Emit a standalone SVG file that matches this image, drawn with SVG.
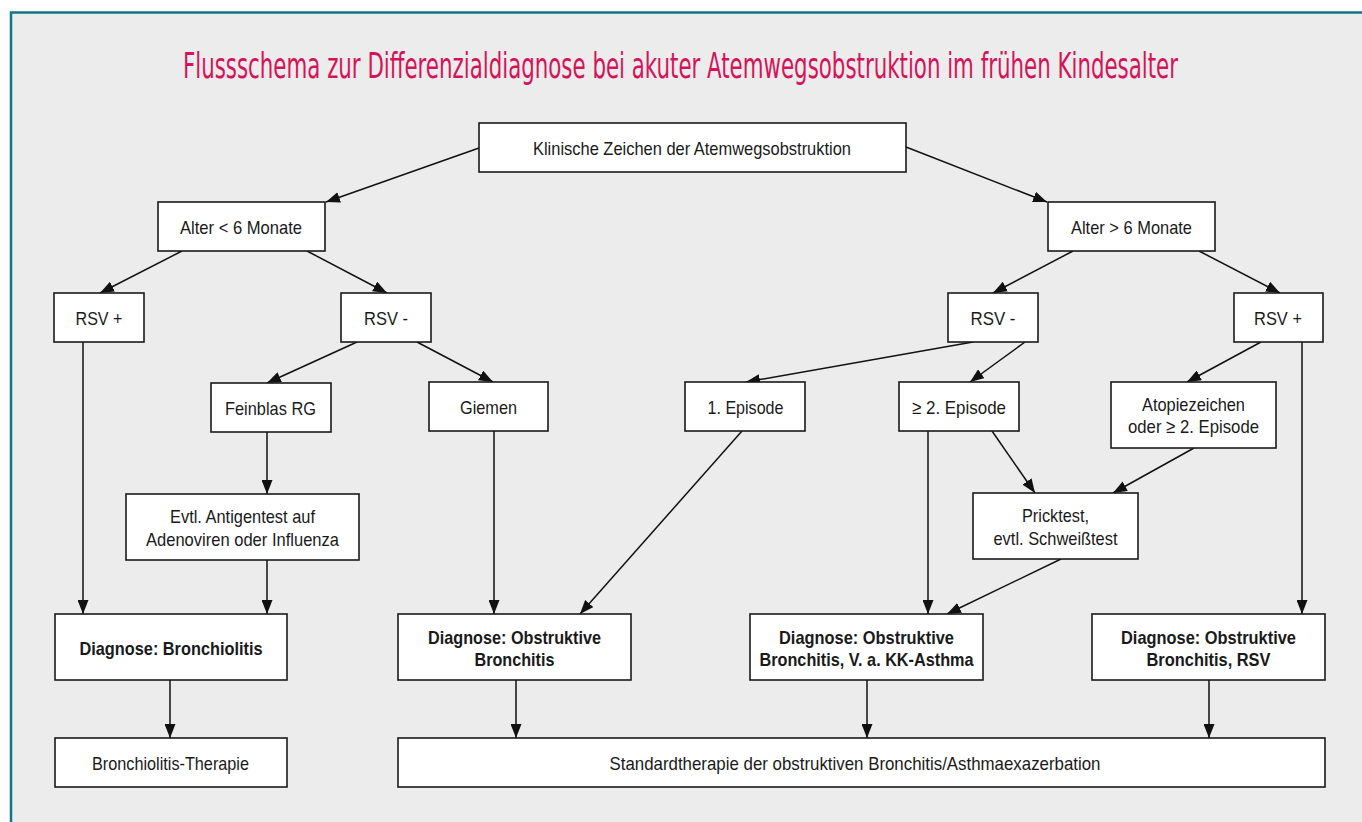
<svg xmlns="http://www.w3.org/2000/svg" width="1362" height="822" viewBox="0 0 1362 822">
<defs>
<marker id="ah" viewBox="0 0 14 11" refX="14" refY="5.5" markerWidth="14" markerHeight="11" markerUnits="userSpaceOnUse" orient="auto"><path d="M0,0 L14,5.5 L0,11 z" fill="#111"/></marker>
<style>
.box{fill:#fff;stroke:#1a1a1a;stroke-width:1.6}
.t{font-family:"Liberation Sans Narrow","Liberation Sans",Arial,sans-serif;font-size:19px;fill:#1a1a1a;text-anchor:middle}
.b{font-weight:bold}
.c{fill:none;stroke:#111;stroke-width:1.5;marker-end:url(#ah)}
</style>
</defs>
<rect x="0" y="0" width="1362" height="822" fill="#fff"/>
<rect x="11" y="12.5" width="1400" height="900" fill="#EBECEB" stroke="#127782" stroke-width="2.5"/>
<text transform="translate(680.5,78) scale(1,1.28)" x="0" y="0" font-family="'Liberation Sans Narrow','DejaVu Sans Condensed','Liberation Sans',sans-serif" font-size="28" fill="#D4145A" text-anchor="middle" textLength="995" lengthAdjust="spacingAndGlyphs">Flussschema zur Differenzialdiagnose bei akuter Atemwegsobstruktion im frühen Kindesalter</text>
<g id="connectors">
<path class="c" d="M479,148 L326,202"/>
<path class="c" d="M906,147 L1047,202"/>
<path class="c" d="M182,251 L100,293"/>
<path class="c" d="M307,251 L387,293"/>
<path class="c" d="M1073,251 L993,293"/>
<path class="c" d="M1199,251 L1280,293"/>
<path class="c" d="M83,342 L83,614"/>
<path class="c" d="M357,342 L267,383"/>
<path class="c" d="M417,342 L493,382"/>
<path class="c" d="M267,432 L267,494"/>
<path class="c" d="M267,560 L267,614"/>
<path class="c" d="M494,431 L494,614"/>
<path class="c" d="M742,431 L580,614"/>
<path class="c" d="M973,342 L746,382"/>
<path class="c" d="M1025,342 L970,382"/>
<path class="c" d="M1261,342 L1187,382"/>
<path class="c" d="M1302,342 L1302,614"/>
<path class="c" d="M928,431 L928,614"/>
<path class="c" d="M992,431 L1035,493"/>
<path class="c" d="M1194,448 L1113,493"/>
<path class="c" d="M1061,559 L947,614"/>
<path class="c" d="M170,680 L170,738"/>
<path class="c" d="M516,680 L516,738"/>
<path class="c" d="M867,680 L867,738"/>
<path class="c" d="M1209,680 L1209,738"/>
</g>
<g id="n1"><rect class="box" x="479" y="123" width="427" height="49"/><text class="t" x="692" y="155" textLength="318" lengthAdjust="spacingAndGlyphs">Klinische Zeichen der Atemwegsobstruktion</text></g>
<g id="n2"><rect class="box" x="158" y="202" width="167" height="49"/><text class="t" x="241" y="234" textLength="122" lengthAdjust="spacingAndGlyphs">Alter &lt; 6 Monate</text></g>
<g id="n3"><rect class="box" x="1048" y="202" width="167" height="49"/><text class="t" x="1131.5" y="234" textLength="121" lengthAdjust="spacingAndGlyphs">Alter &gt; 6 Monate</text></g>
<g id="n4"><rect class="box" x="54" y="293" width="90" height="49"/><text class="t" x="99" y="325" textLength="47" lengthAdjust="spacingAndGlyphs">RSV +</text></g>
<g id="n5"><rect class="box" x="341" y="293" width="90" height="49"/><text class="t" x="386" y="325" textLength="44" lengthAdjust="spacingAndGlyphs">RSV -</text></g>
<g id="n6"><rect class="box" x="948" y="293" width="90" height="49"/><text class="t" x="993" y="325" textLength="45" lengthAdjust="spacingAndGlyphs">RSV -</text></g>
<g id="n7"><rect class="box" x="1234" y="293" width="89" height="49"/><text class="t" x="1278" y="325" textLength="48" lengthAdjust="spacingAndGlyphs">RSV +</text></g>
<g id="n8"><rect class="box" x="211" y="383" width="120" height="49"/><text class="t" x="270.5" y="415" textLength="91" lengthAdjust="spacingAndGlyphs">Feinblas RG</text></g>
<g id="n9"><rect class="box" x="429" y="382" width="119" height="49"/><text class="t" x="488.5" y="414" textLength="57" lengthAdjust="spacingAndGlyphs">Giemen</text></g>
<g id="n10"><rect class="box" x="685" y="382" width="120" height="49"/><text class="t" x="745.5" y="414" textLength="76" lengthAdjust="spacingAndGlyphs">1. Episode</text></g>
<g id="n11"><rect class="box" x="899" y="382" width="120" height="49"/><text class="t" x="959" y="414" textLength="94" lengthAdjust="spacingAndGlyphs">≥ 2. Episode</text></g>
<g id="n12"><rect class="box" x="1111" y="382" width="165" height="66"/><text class="t" x="1193.5" y="411" textLength="103" lengthAdjust="spacingAndGlyphs">Atopiezeichen</text><text class="t" x="1193.5" y="433" textLength="131" lengthAdjust="spacingAndGlyphs">oder ≥ 2. Episode</text></g>
<g id="n13"><rect class="box" x="973" y="493" width="165" height="66"/><text class="t" x="1055.5" y="522" textLength="67" lengthAdjust="spacingAndGlyphs">Pricktest,</text><text class="t" x="1055.5" y="545" textLength="124" lengthAdjust="spacingAndGlyphs">evtl. Schweißtest</text></g>
<g id="n14"><rect class="box" x="126" y="494" width="233" height="66"/><text class="t" x="242.5" y="523" textLength="145" lengthAdjust="spacingAndGlyphs">Evtl. Antigentest auf</text><text class="t" x="242.5" y="546" textLength="193" lengthAdjust="spacingAndGlyphs">Adenoviren oder Influenza</text></g>
<g id="n15"><rect class="box" x="55" y="614" width="232" height="66"/><text class="t b" x="171" y="655" textLength="183" lengthAdjust="spacingAndGlyphs">Diagnose: Bronchiolitis</text></g>
<g id="n16"><rect class="box" x="398" y="614" width="233" height="66"/><text class="t b" x="514.5" y="644" textLength="173" lengthAdjust="spacingAndGlyphs">Diagnose: Obstruktive</text><text class="t b" x="514.5" y="666" textLength="80" lengthAdjust="spacingAndGlyphs">Bronchitis</text></g>
<g id="n17"><rect class="box" x="750" y="614" width="233" height="66"/><text class="t b" x="866.5" y="644" textLength="175" lengthAdjust="spacingAndGlyphs">Diagnose: Obstruktive</text><text class="t b" x="866.5" y="666" textLength="214" lengthAdjust="spacingAndGlyphs">Bronchitis, V. a. KK-Asthma</text></g>
<g id="n18"><rect class="box" x="1092" y="614" width="233" height="66"/><text class="t b" x="1208.5" y="644" textLength="175" lengthAdjust="spacingAndGlyphs">Diagnose: Obstruktive</text><text class="t b" x="1208.5" y="666" textLength="124" lengthAdjust="spacingAndGlyphs">Bronchitis, RSV</text></g>
<g id="n19"><rect class="box" x="55" y="738" width="232" height="49"/><text class="t" x="170.5" y="770" textLength="157" lengthAdjust="spacingAndGlyphs">Bronchiolitis-Therapie</text></g>
<g id="n20"><rect class="box" x="398" y="738" width="927" height="49"/><text class="t" x="855" y="770" textLength="491" lengthAdjust="spacingAndGlyphs">Standardtherapie der obstruktiven Bronchitis/Asthmaexazerbation</text></g>
</svg>
